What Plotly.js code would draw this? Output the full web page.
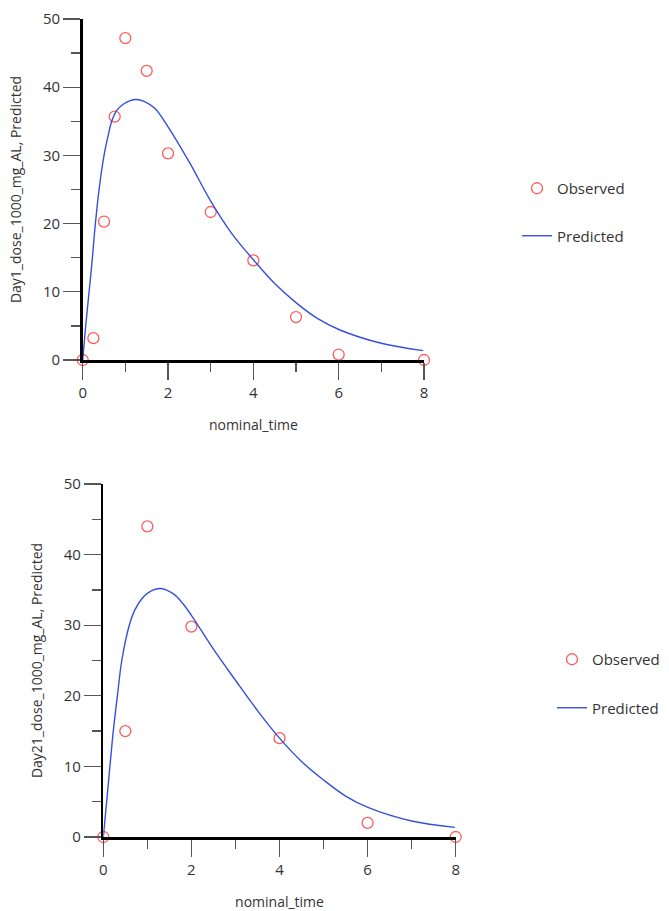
<!DOCTYPE html>
<html>
<head>
<meta charset="utf-8">
<script src="https://cdn.plot.ly/plotly-3.0.1.min.js"></script>
<style>html,body{margin:0;padding:0;background:#fff;}#chart{width:669px;height:911px;}</style>
</head>
<body>
<div id="chart"></div>
<script>
// Day 1 data
const day1ObsTime = [0, 0.25, 0.5, 0.75, 1, 1.5, 2, 3, 4, 5, 6, 8];
const day1ObsConc = [0, 3.2, 20.3, 35.7, 47.2, 42.4, 30.3, 21.7, 14.6, 6.3, 0.8, 0];
const day1PredTime = [0, 0.07, 0.15, 0.22, 0.29, 0.38, 0.5, 0.6, 0.68, 0.8, 0.95, 1.1, 1.25, 1.45, 1.69, 2.0, 2.5, 3.0, 3.5, 4.0, 4.5, 5.02, 5.5, 6.03, 7.0, 7.98];
const day1PredConc = [0, 5, 10, 14.5, 19.5, 24.8, 30, 33, 35, 36.6, 37.5, 38.0, 38.2, 37.9, 36.9, 34.2, 29.0, 23.3, 18.5, 14.7, 11.2, 8.3, 6.1, 4.4, 2.45, 1.37];

// Day 21 data
const day21ObsTime = [0, 0.5, 1, 2, 4, 6, 8];
const day21ObsConc = [0, 15.0, 44.0, 29.8, 14.0, 2.0, 0];
const day21PredTime = [0, 0.076, 0.15, 0.227, 0.32, 0.42, 0.59, 0.72, 0.91, 1.1, 1.3, 1.6, 1.8, 2.0, 2.5, 3.0, 3.5, 4.0, 4.5, 5.0, 5.5, 6.02, 7.0, 7.98];
const day21PredConc = [0, 5, 10, 15, 20, 25, 30, 32.2, 34.0, 34.9, 35.2, 34.4, 33.1, 31.4, 26.6, 22.2, 17.9, 14.0, 10.7, 8.07, 5.8, 4.16, 2.27, 1.37];

const xTickVals = [0, 2, 4, 6, 8];
const yTickVals = [0, 10, 20, 30, 40, 50];
const traceNames = ["Observed", "Predicted"];
const yTitles = ["Day1_dose_1000_mg_AL, Predicted", "Day21_dose_1000_mg_AL, Predicted"];
const xTitle = "nominal_time";

const FONT = "'Open Sans', 'Noto Sans', sans-serif";
const TXT = "#333333";
const RED = "#ff5c5c";
const BLUE = "#3550dc";

function obsTrace(x, y, xa, ya, lg) {
  return {x: x, y: y, xaxis: xa, yaxis: ya, type: "scatter", mode: "markers", name: traceNames[0],
    legend: lg, legendgroup: lg + "o", cliponaxis: false,
    marker: {symbol: "circle-open", size: 11, color: RED, line: {color: RED, width: 1.3}}};
}
function predTrace(x, y, xa, ya, lg) {
  return {x: x, y: y, xaxis: xa, yaxis: ya, type: "scatter", mode: "lines", name: traceNames[1],
    legend: lg, legendgroup: lg + "p", cliponaxis: false,
    line: {color: BLUE, width: 1.4, shape: "spline", smoothing: 1}};
}

const data = [
  obsTrace(day1ObsTime, day1ObsConc, "x", "y", "legend"),
  predTrace(day1PredTime, day1PredConc, "x", "y", "legend"),
  obsTrace(day21ObsTime, day21ObsConc, "x2", "y2", "legend2"),
  predTrace(day21PredTime, day21PredConc, "x2", "y2", "legend2")
];

function xAxis(domain, anchor) {
  return {domain: domain, anchor: anchor, range: [0, 8], tickvals: xTickVals, ticks: "outside",
    ticklen: 17, tickwidth: 1.3, tickcolor: "#555", showline: true, linecolor: "#000", linewidth: 2.5,
    showgrid: false, zeroline: false, fixedrange: true,
    minor: {dtick: 1, tick0: 0, ticks: "outside", ticklen: 9, tickwidth: 1.3, tickcolor: "#555", showgrid: false},
    tickfont: {family: FONT, size: 15, color: TXT},
    title: {text: xTitle, font: {family: FONT, size: 14, color: TXT}, standoff: 20}};
}
function yAxis(domain, anchor, title) {
  return {domain: domain, anchor: anchor, range: [0, 50], tickvals: yTickVals, ticks: "outside",
    ticklen: 17, tickwidth: 1.3, tickcolor: "#555", showline: true, linecolor: "#000", linewidth: 2.5,
    showgrid: false, zeroline: false, fixedrange: true,
    minor: {dtick: 5, tick0: 0, ticks: "outside", ticklen: 9, tickwidth: 1.3, tickcolor: "#555", showgrid: false},
    tickfont: {family: FONT, size: 15, color: TXT},
    title: {text: title, font: {family: FONT, size: 14, color: TXT}, standoff: 18}};
}

const W = 669, H = 911;
const layout = {
  width: W, height: H, autosize: false,
  margin: {l: 0, r: 0, t: 0, b: 0, pad: 0},
  paper_bgcolor: "#fff", plot_bgcolor: "#fff",
  font: {family: FONT, color: TXT},
  showlegend: true,
  xaxis: xAxis([82.7 / W, 424 / W], "y"),
  yaxis: yAxis([1 - 360 / H, 1 - 19 / H], "x", yTitles[0]),
  xaxis2: xAxis([103.3 / W, 455.7 / W], "y2"),
  yaxis2: yAxis([1 - 837 / H, 1 - 484 / H], "x2", yTitles[1]),
  legend: {x: 517 / W, xanchor: "left", y: 1 - 172 / H, yanchor: "top", traceorder: "grouped",
    tracegroupgap: 25, font: {family: FONT, size: 15, color: TXT}, bgcolor: "rgba(0,0,0,0)"},
  legend2: {x: 552 / W, xanchor: "left", y: 1 - 643 / H, yanchor: "top", traceorder: "grouped",
    tracegroupgap: 26, font: {family: FONT, size: 15, color: TXT}, bgcolor: "rgba(0,0,0,0)"}
};

Plotly.newPlot("chart", data, layout, {displayModeBar: false, staticPlot: true});
</script>
</body>
</html>
